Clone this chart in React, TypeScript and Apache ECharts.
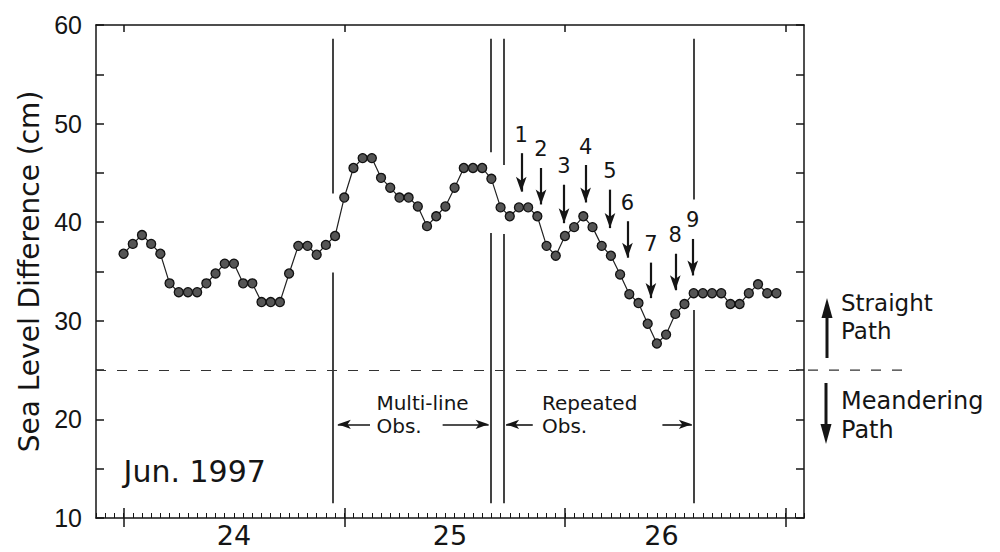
import React, { useEffect, useRef } from "react";
import * as echarts from "echarts";

// ---- data (hourly sea level difference, Jun. 24 00h .. Jun. 26 23h, 1997) ----
const seaLevel = [
  36.8, 37.8, 38.7, 37.8, 36.8, 33.8, 32.9, 32.9, 32.9, 33.8, 34.8, 35.8,
  35.8, 33.8, 33.8, 31.9, 31.9, 31.9, 34.8, 37.6, 37.6, 36.7, 37.7, 38.6,
  42.5, 45.5, 46.5, 46.5, 44.5, 43.5, 42.5, 42.5, 41.6, 39.6, 40.6, 41.6,
  43.5, 45.5, 45.5, 45.5, 44.4, 41.5, 40.6, 41.5, 41.5, 40.6, 37.6, 36.6,
  38.6, 39.5, 40.6, 39.5, 37.6, 36.6, 34.7, 32.7, 31.8, 29.7, 27.7, 28.6,
  30.7, 31.7, 32.8, 32.8, 32.8, 32.8, 31.7, 31.7, 32.8, 33.7, 32.8, 32.8,
];

const dayTicks = [0, 24, 48, 72];
const dayLabelPos = [12, 35.5, 58.5];
const dayNames = ["24", "25", "26"];

const threshold = 25;

// vertical period boundaries (hours), with gaps around the curve
const boundaryHours = [22.8, 39.9, 41.3, 62.0];
const boundaryUpperEnd = [42.9, 47.1, 45.8, 42.3];
const boundaryLowerStart = [34.9, 38.9, 38.8, 31.1];
const boundaryTop = 58.6;
const boundaryBottom = 11.5;

// numbered observation arrows
const arrowNames = ["1", "2", "3", "4", "5", "6", "7", "8", "9"];
const arrowHours = [43.25, 45.4, 47.9, 50.25, 52.9, 54.8, 57.35, 60, 61.9];
const arrowTop = [47.0, 45.5, 43.8, 45.8, 43.3, 40.1, 35.9, 36.8, 38.3];
const arrowBottom = [43.1, 41.8, 39.9, 42.0, 39.4, 36.4, 32.3, 33.1, 34.6];

// period span arrows [fromHour, toHour, arrowAtStart]
const spanArrows: [number, number, boolean][] = [
  [23.3, 26.8, true],
  [34.7, 39.7, false],
  [41.6, 44.5, true],
  [58.6, 61.8, false],
];
const spanLevel = 19.5;

const ink = "#151515";
const wordFont = '"DejaVu Sans", "Liberation Sans", sans-serif';
const numFont = '"Liberation Sans", Arial, sans-serif';

export default function App() {
  const ref = useRef<HTMLDivElement>(null);

  useEffect(() => {
    if (!ref.current) return;
    const chart = echarts.init(ref.current, null, { renderer: "svg" });
    const axisLine = { color: ink, width: 1.5 };

    const boundaryData: any[] = [];
    boundaryHours.forEach((h, i) => {
      boundaryData.push([{ coord: [h, boundaryTop] }, { coord: [h, boundaryUpperEnd[i]] }]);
      boundaryData.push([{ coord: [h, boundaryLowerStart[i]] }, { coord: [h, boundaryBottom] }]);
    });

    const arrowData = arrowHours.map((h, i) => [
      { coord: [h, arrowTop[i]], name: arrowNames[i], symbol: "none" },
      { coord: [h, arrowBottom[i]], symbol: "arrow", symbolSize: [8, 15] },
    ]);

    const spanData = spanArrows.map(([a, b, atStart]) => [
      { coord: [a, spanLevel], symbol: atStart ? "arrow" : "none", symbolSize: [7, 13] },
      { coord: [b, spanLevel], symbol: atStart ? "none" : "arrow", symbolSize: [7, 13] },
    ]);

    const baseX = { type: "value", min: -3, max: 74, splitLine: { show: false } };

    chart.setOption({
      animation: false,
      backgroundColor: "#ffffff",
      grid: { left: 96, top: 25, width: 708, height: 493, containLabel: false },
      xAxis: [
        {
          ...baseX,
          position: "bottom",
          axisLine: { show: true, onZero: false, lineStyle: axisLine },
          axisTick: { show: true, customValues: dayTicks, inside: false, length: 9, lineStyle: axisLine },
          axisLabel: {
            show: true,
            customValues: dayLabelPos,
            formatter: (v: number) => dayNames[Math.floor(v / 24)] ?? "",
            fontFamily: wordFont,
            fontSize: 27,
            color: ink,
            margin: 4,
          },
        },
        {
          ...baseX,
          position: "bottom",
          interval: 1,
          axisLine: { show: false, onZero: false },
          axisTick: { show: true, inside: true, length: 5, lineStyle: { color: ink, width: 1 } },
          axisLabel: { show: false },
        },
        {
          ...baseX,
          position: "bottom",
          axisLine: { show: false, onZero: false },
          axisTick: { show: true, customValues: dayTicks, inside: true, length: 10, lineStyle: axisLine },
          axisLabel: { show: false },
        },
        {
          ...baseX,
          position: "top",
          axisLine: { show: true, onZero: false, lineStyle: axisLine },
          axisTick: { show: true, customValues: dayTicks, inside: true, length: 7, lineStyle: axisLine },
          axisLabel: { show: false },
        },
      ],
      yAxis: [
        {
          type: "value",
          min: 10,
          max: 60,
          interval: 5,
          position: "left",
          name: "Sea Level Difference (cm)",
          nameLocation: "middle",
          nameGap: 47,
          nameTextStyle: { fontFamily: wordFont, fontSize: 28, color: ink },
          axisLine: { show: true, onZero: false, lineStyle: axisLine },
          axisTick: { show: true, inside: true, length: 8, lineStyle: axisLine },
          axisLabel: {
            formatter: (v: number) => (v % 10 === 0 ? String(v) : ""),
            fontFamily: numFont,
            fontSize: 25,
            color: ink,
            margin: 14,
          },
          splitLine: { show: false },
        },
        {
          type: "value",
          min: 10,
          max: 60,
          interval: 5,
          position: "right",
          axisLine: { show: true, onZero: false, lineStyle: axisLine },
          axisTick: { show: true, inside: true, length: 8, lineStyle: axisLine },
          axisLabel: { show: false },
          splitLine: { show: false },
        },
      ],
      series: [
        {
          type: "line",
          data: seaLevel.map((v, i) => [i, v]),
          symbol: "circle",
          symbolSize: 9,
          itemStyle: { color: "#555555", borderColor: "#111", borderWidth: 1.3 },
          lineStyle: { color: "#222", width: 1.2 },
          z: 5,
        },
        {
          type: "line",
          data: [],
          markLine: {
            silent: true,
            animation: false,
            symbol: "none",
            label: { show: false },
            lineStyle: { color: ink, width: 1.6, type: "solid" },
            emphasis: { disabled: true },
            data: boundaryData,
          },
        },
        {
          type: "line",
          data: [],
          markLine: {
            silent: true,
            animation: false,
            symbol: "none",
            label: { show: false },
            lineStyle: { color: "#333", width: 1.2, type: [10, 11] },
            emphasis: { disabled: true },
            data: [{ yAxis: threshold }],
          },
        },
        {
          type: "line",
          data: [],
          markLine: {
            silent: true,
            animation: false,
            lineStyle: { color: ink, width: 2.2, type: "solid" },
            label: {
              show: true,
              position: "start",
              formatter: "{b}",
              distance: 8,
              fontFamily: wordFont,
              fontSize: 21,
              color: ink,
            },
            emphasis: { disabled: true },
            data: arrowData,
          },
        },
        {
          type: "line",
          data: [],
          markLine: {
            silent: true,
            animation: false,
            lineStyle: { color: ink, width: 1.6, type: "solid" },
            label: { show: false },
            emphasis: { disabled: true },
            data: spanData,
          },
        },
      ],
    });

    const p = (h: number, v: number) => chart.convertToPixel({ seriesIndex: 0 }, [h, v]) as number[];
    const y25 = p(0, threshold)[1];
    const txt = (text: string, x: number, y: number, size: number) => ({
      type: "text",
      x,
      y,
      silent: true,
      style: {
        text,
        fill: ink,
        fontFamily: wordFont,
        fontSize: size,
        textAlign: "left",
        textVerticalAlign: "middle",
        align: "left",
        verticalAlign: "middle",
      },
    });

    chart.setOption({
      graphic: [
        txt("Multi-line", p(27.5, 0)[0], p(0, 21.7)[1], 20),
        txt("Obs.", p(27.5, 0)[0], p(0, 19.3)[1], 20),
        txt("Repeated", p(45.5, 0)[0], p(0, 21.7)[1], 20),
        txt("Obs.", p(45.5, 0)[0], p(0, 19.3)[1], 20),
        txt("Jun. 1997", p(0, 0)[0], p(0, 14.7)[1], 30),
        {
          type: "line",
          silent: true,
          shape: { x1: 808, y1: y25, x2: 912, y2: y25 },
          style: { stroke: "#333", lineWidth: 1.2, lineDash: [10, 11] },
        },
        {
          type: "line",
          silent: true,
          shape: { x1: 827, y1: 358, x2: 827, y2: 312 },
          style: { stroke: ink, lineWidth: 3 },
        },
        {
          type: "polygon",
          silent: true,
          shape: { points: [[827, 298], [821.5, 318], [832.5, 318]] },
          style: { fill: ink },
        },
        txt("Straight", 841, 303, 23),
        txt("Path", 841, 331, 23),
        {
          type: "line",
          silent: true,
          shape: { x1: 826, y1: 383, x2: 826, y2: 430 },
          style: { stroke: ink, lineWidth: 3 },
        },
        {
          type: "polygon",
          silent: true,
          shape: { points: [[826, 444], [820.5, 424], [831.5, 424]] },
          style: { fill: ink },
        },
        txt("Meandering", 841, 401, 24),
        txt("Path", 841, 430, 24),
      ],
    });

    return () => chart.dispose();
  }, []);

  return (
    <div
      ref={ref}
      style={{ position: "fixed", left: 0, top: 0, width: 1000, height: 552, background: "#fff" }}
    />
  );
}
